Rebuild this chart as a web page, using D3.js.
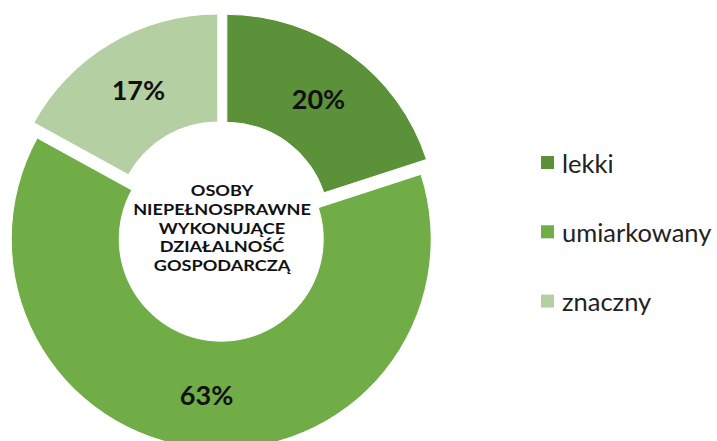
<!DOCTYPE html>
<html>
<head>
<meta charset="utf-8">
<script src="https://cdn.jsdelivr.net/npm/d3@7"></script>
<style>
  body { margin: 0; background: #fff; }
  svg { display: block; font-family: Lato, "Open Sans", sans-serif; }
</style>
</head>
<body>
<div id="chart"></div>
<script>
(function donut() {

  const categories = ["lekki", "umiarkowany", "znaczny"];
  const values = [20, 63, 17];
  const labels = ["20%", "63%", "17%"];
  const centerLines = ["OSOBY", "NIEPEŁNOSPRAWNE", "WYKONUJĄCE", "DZIAŁALNOŚĆ", "GOSPODARCZĄ"];

  let width = 717,
    height = 441,
    cx = 222,
    cy = 231,
    outer = 210,
    inner = 102,
    explode = 8.2;

  const svg = d3.select("#chart")
    .append("svg")
    .attr("width", width)
    .attr("height", height)
    .attr("viewBox", [0, 0, width, height]);

  let color = d3.scaleOrdinal()
    .domain(categories)
    .range(["#5b9139", "#70ad47", "#b4d0a3"]);

  let pie = d3.pie()
    .sort(null)
    .value(d => d.value);

  let arc = d3.arc()
    .innerRadius(inner)
    .outerRadius(outer);

  let labelArc = d3.arc()
    .innerRadius((inner + outer) / 2)
    .outerRadius((inner + outer) / 2);

  let data = categories.map((c, i) => ({ name: c, value: values[i], label: labels[i] }));
  let arcs = pie(data);

  let g = svg.append("g")
    .attr("transform", `translate(${cx},${cy})`);

  // each slice pushed out along its middle angle
  let slice = g.selectAll("g.slice")
    .data(arcs)
    .join("g")
    .attr("class", "slice")
    .attr("transform", d => {
      let a = (d.startAngle + d.endAngle) / 2;
      return `translate(${explode * Math.sin(a)},${-explode * Math.cos(a)})`;
    });

  slice.append("path")
    .attr("d", arc)
    .attr("fill", d => color(d.data.name))
    .attr("stroke", "#fff")
    .attr("stroke-width", 1);

  slice.append("text")
    .attr("transform", d => `translate(${labelArc.centroid(d)})`)
    .attr("text-anchor", "middle")
    .attr("dominant-baseline", "central")
    .attr("font-size", 27)
    .attr("font-weight", "bold")
    .attr("fill", "#111")
    .text(d => d.data.label);

  // title in the hole, a bit wider than Lato draws it
  g.append("g")
    .attr("transform", "scale(1.17,1)")
    .append("text")
    .attr("text-anchor", "middle")
    .attr("font-size", 15.5)
    .attr("font-weight", "bold")
    .attr("fill", "#111")
    .selectAll("tspan")
    .data(centerLines)
    .join("tspan")
    .attr("x", 0)
    .attr("y", (d, i) => -41 + i * 18.8 + 6)
    .text(d => d);

  let legend = svg.append("g")
    .selectAll("g")
    .data(categories)
    .join("g")
    .attr("transform", (d, i) => `translate(541,${162.5 + i * 69.3})`);

  legend.append("rect")
    .attr("x", 0)
    .attr("y", -6.5)
    .attr("width", 13)
    .attr("height", 13)
    .attr("fill", d => color(d));

  legend.append("text")
    .attr("x", 21)
    .attr("y", 0)
    .attr("dominant-baseline", "central")
    .attr("font-size", 25.5)
    .attr("fill", "#222")
    .text(d => d);

})();
</script>
</body>
</html>
